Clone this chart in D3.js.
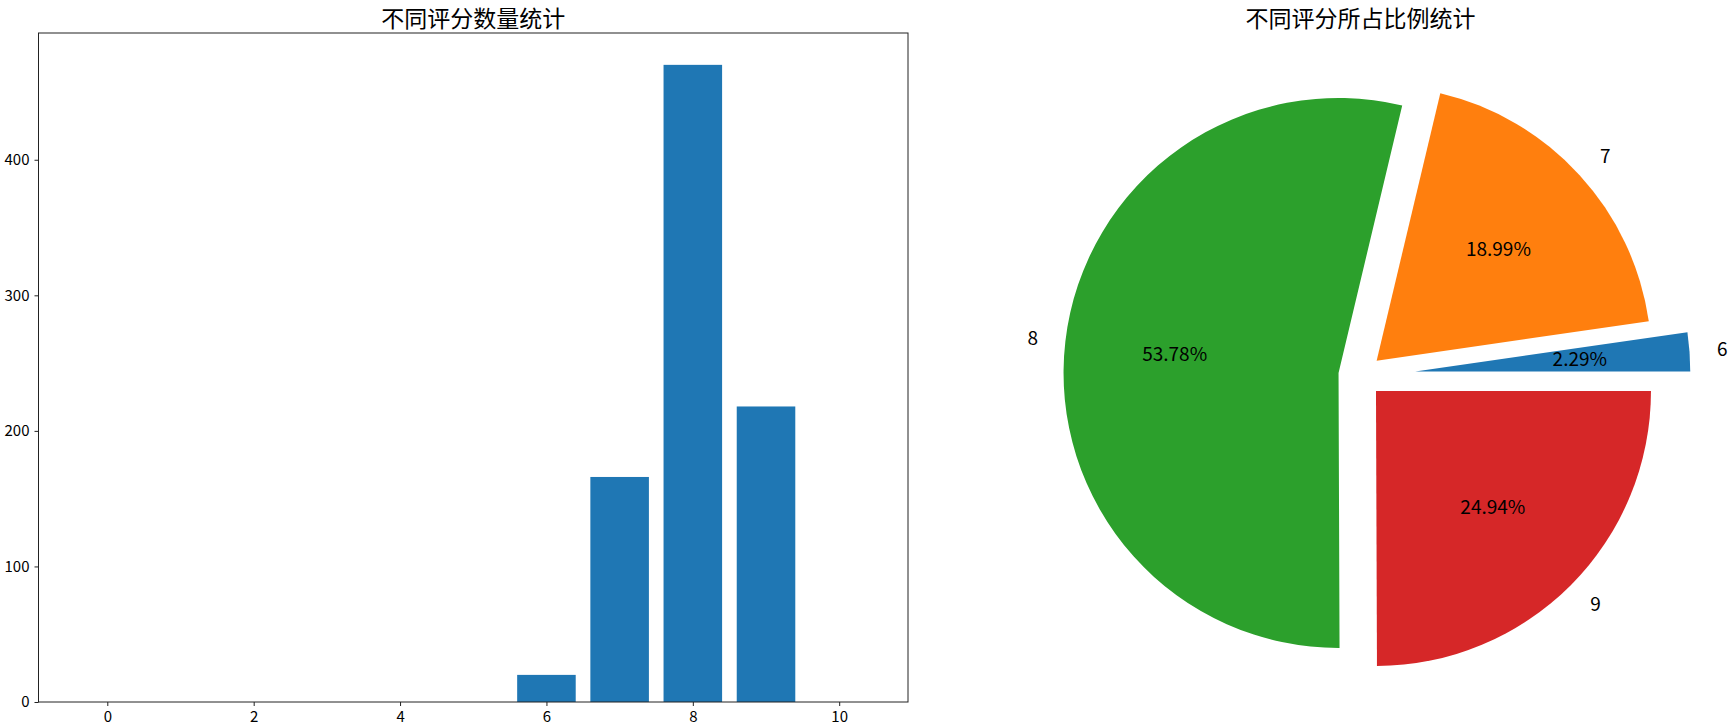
<!DOCTYPE html>
<html>
<head>
<meta charset="utf-8">
<script src="https://cdn.jsdelivr.net/npm/d3@7"></script>
<style>
  body { margin: 0; background: #fff; }
  text { font-family: "Noto Sans CJK SC", "Noto Sans", sans-serif; }
</style>
</head>
<body>
<div id="chart"></div>
<script>
// data
var scores = [0, 1, 2, 3, 4, 5, 6, 7, 8, 9, 10];
var counts = [0, 0, 0, 0, 0, 0, 20, 166, 470, 218, 0];
var xTicks = [0, 2, 4, 6, 8, 10];
var yTicks = [0, 100, 200, 300, 400];

var pieLabels = ["6", "7", "8", "9"];
var pieValues = [20, 166, 470, 218];
var pieExplode = [0.2, 0.08, 0.08, 0.08];
var pieColors = ["#1f77b4", "#ff7f0e", "#2ca02c", "#d62728"];

var width = 1734, height = 728;

var svg = d3.select("#chart")
    .append("svg")
    .attr("width", width)
    .attr("height", height);

// ---- left: bar chart ----
var box = {left: 38.5, right: 908, top: 33, bottom: 702};

var x = d3.scaleLinear()
    .domain([-0.94, 10.94])
    .range([box.left, box.right]);

var y = d3.scaleLinear()
    .domain([0, d3.max(counts) * 1.05])
    .range([box.bottom, box.top]);

var barW = 0.8;

svg.append("g")
    .selectAll("rect")
    .data(scores)
    .enter()
    .append("rect")
    .attr("x", function(d) { return x(d - barW / 2); })
    .attr("width", function(d) { return x(d + barW / 2) - x(d - barW / 2); })
    .attr("y", function(d, i) { return y(counts[i]); })
    .attr("height", function(d, i) { return y(0) - y(counts[i]); })
    .style("fill", "#1f77b4");

var xAxis = d3.axisBottom(x).tickValues(xTicks).tickSize(4).tickPadding(5);
var yAxis = d3.axisLeft(y).tickValues(yTicks).tickSize(4).tickPadding(5);

var gx = svg.append("g")
    .attr("transform", "translate(0," + box.bottom + ")")
    .call(xAxis);
var gy = svg.append("g")
    .attr("transform", "translate(" + box.left + ",0)")
    .call(yAxis);

[gx, gy].forEach(function(g) {
    g.select(".domain").remove();
    g.selectAll("line").attr("stroke", "#222").attr("stroke-width", 1);
    g.selectAll("text")
        .style("font-size", "15px")
        .style("fill", "#000");
});

// frame
svg.append("rect")
    .attr("x", box.left)
    .attr("y", box.top)
    .attr("width", box.right - box.left)
    .attr("height", box.bottom - box.top)
    .style("fill", "none")
    .style("stroke", "#222")
    .style("stroke-width", 1);

svg.append("text")
    .attr("x", (box.left + box.right) / 2)
    .attr("y", 27)
    .attr("text-anchor", "middle")
    .style("font-size", "23px")
    .text("不同评分数量统计");

// ---- right: pie chart ----
var cx = 1360.4, cy = 375.5, R = 275;

// matplotlib style: start at 3 o'clock, counter-clockwise
var pie = d3.pie()
    .sort(null)
    .startAngle(Math.PI / 2)
    .endAngle(Math.PI / 2 - 2 * Math.PI);

var arc = d3.arc().innerRadius(0).outerRadius(R);
var arcs = pie(pieValues);
var total = d3.sum(pieValues);

var pg = svg.append("g")
    .attr("transform", "translate(" + cx + "," + cy + ")");

function dir(d) {
    var a = (d.startAngle + d.endAngle) / 2;
    return [Math.sin(a), -Math.cos(a)];
}

pg.selectAll("path")
    .data(arcs)
    .enter()
    .append("path")
    .attr("d", arc)
    .attr("transform", function(d, i) {
        var v = dir(d), e = pieExplode[i] * R;
        return "translate(" + (v[0] * e) + "," + (v[1] * e) + ")";
    })
    .style("fill", function(d, i) { return pieColors[i]; });

// outer labels
pg.selectAll(".lab")
    .data(arcs)
    .enter()
    .append("text")
    .attr("class", "lab")
    .attr("x", function(d, i) { return dir(d)[0] * (pieExplode[i] + 1.1) * R; })
    .attr("y", function(d, i) { return dir(d)[1] * (pieExplode[i] + 1.1) * R; })
    .attr("dy", "0.35em")
    .attr("text-anchor", function(d) { return dir(d)[0] > 0 ? "start" : "end"; })
    .style("font-size", "19px")
    .text(function(d, i) { return pieLabels[i]; });

// percentages
pg.selectAll(".pct")
    .data(arcs)
    .enter()
    .append("text")
    .attr("class", "pct")
    .attr("x", function(d, i) { return dir(d)[0] * (pieExplode[i] + 0.6) * R; })
    .attr("y", function(d, i) { return dir(d)[1] * (pieExplode[i] + 0.6) * R; })
    .attr("dy", "0.35em")
    .attr("text-anchor", "middle")
    .style("font-size", "19px")
    .text(function(d) { return (d.value / total * 100).toFixed(2) + "%"; });

svg.append("text")
    .attr("x", cx)
    .attr("y", 27)
    .attr("text-anchor", "middle")
    .style("font-size", "23px")
    .text("不同评分所占比例统计");
</script>
</body>
</html>
